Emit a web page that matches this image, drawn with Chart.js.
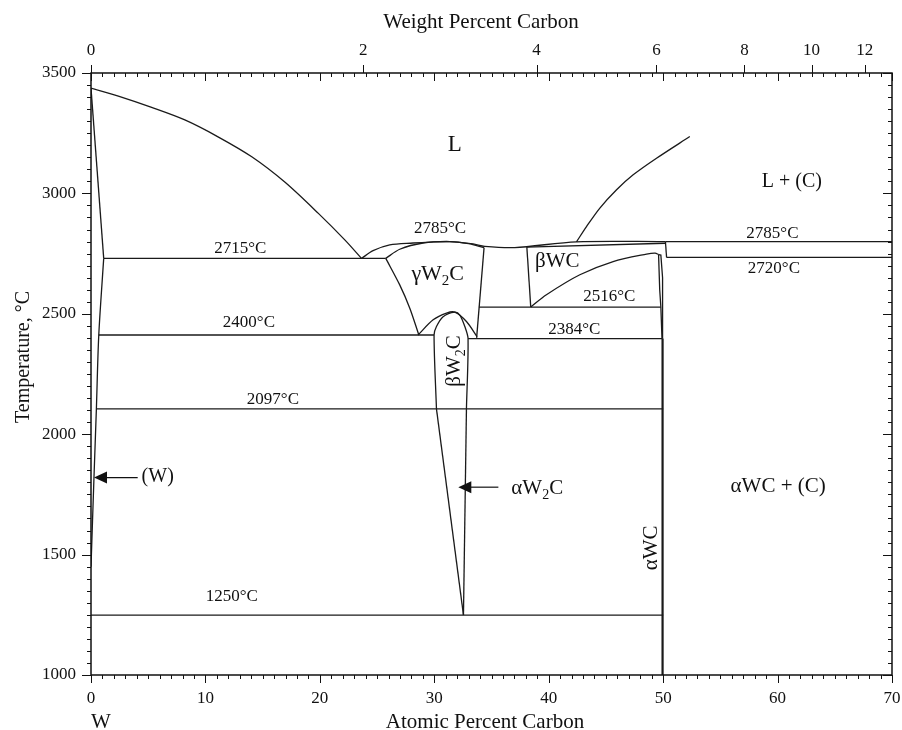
<!DOCTYPE html>
<html><head><meta charset="utf-8">
<script src="https://cdn.jsdelivr.net/npm/chart.js@4.4.1/dist/chart.umd.min.js"></script>
<style>html,body{margin:0;padding:0;background:#fff;}#wrap{width:902px;height:730px;position:relative;}</style>
</head><body><div id="wrap"><canvas id="c"></canvas></div>
<script>
const FONT = '"Liberation Serif","Times New Roman",Times,serif';

// ---- axis tick values ----
const atTicks = [0, 10, 20, 30, 40, 50, 60, 70];          // atomic percent C (bottom)
const wtTicks = [0, 2, 4, 6, 8, 10, 12];                   // weight percent C (top)
const tempTicks = [1000, 1500, 2000, 2500, 3000, 3500];    // temperature, °C

// ---- phase boundaries: [atomic % C, temperature °C] ----
const liquidusW   = [[0,3437],[2.39,3404],[5.3,3357],[8.2,3305],[11.1,3235],[14.05,3152],[16.96,3046],[19.87,2917],[22.2,2806],[23.64,2730]];
const solidusW    = [[0,3437],[1.11,2730]];
const solvusW     = [[1.11,2730],[0.68,2412],[0.47,2105],[0.26,1820],[0,1450]];
const eutectic2715 = [[1.11,2730],[25.76,2730]];
const eutectoid2400 = [[0.68,2412],[29.98,2412]];
const eutectoid2097 = [[0.47,2105],[50,2105]];
const eutectoid1250 = [[0,1249],[50,1249]];
const liquidusMid = [[23.64,2730],[24.65,2762],[26.11,2786],[28.15,2794],[29.6,2798],[31.35,2800],[33.39,2790],[34.41,2780],[37.03,2775],[42.43,2799],[50.2,2800]];
const solidusGamma = [[25.76,2730],[26.98,2768],[29.02,2794],[31.35,2800],[33.0,2791],[34.35,2775]];
const gammaLeft   = [[25.76,2730],[26.98,2620],[27.86,2523],[28.65,2412]];
const gammaRight  = [[34.35,2775],[33.7,2400]];
const gammaBetaDome = [[28.58,2412],[29.9,2475],[31.07,2503],[31.79,2507],[32.81,2468],[33.74,2405]];
const betaW2C     = [[30.19,2105],[29.98,2412],[30.19,2447],[30.77,2488],[31.79,2507],[32.23,2495],[32.67,2447],[32.95,2397],[32.81,2105]];
const alphaW2CLeft  = [[30.19,2105],[32.55,1249]];
const alphaW2CRight = [[32.81,2105],[32.55,1249]];
const eutectoid2384 = [[32.95,2397],[49.95,2397]];
const line2516    = [[33.9,2528],[49.8,2528]];
const betaWCLeft  = [[38.09,2777],[38.43,2528]];
const betaWCRight = [[38.43,2528],[39.8,2579],[42.72,2662],[45.63,2717],[48.55,2748],[49.3,2752],[49.6,2746]];
const solidusBetaWC = [[38.06,2777],[50.2,2793]];
const peritectic  = [[50.2,2800],[50.3,2734]];
const line2785    = [[50.2,2800],[70,2800]];
const line2720    = [[50.3,2734],[70,2734]];
const alphaWCLeft  = [[49.6,2746],[49.7,2600],[49.8,2528],[49.9,2397]];
const alphaWCRight = [[49.6,2746],[49.8,2744],[49.95,2650],[49.95,2397]];
const alphaWCBase  = [[49.95,2397],[49.95,1000]];
const liquidusC   = [[42.43,2799],[43.3,2862],[44.47,2939],[45.93,3015],[47.38,3077],[49.42,3146],[52.33,3236]];

const curves = {liquidusW, solidusW, solvusW, eutectic2715, eutectoid2400, eutectoid2097, eutectoid1250,
  liquidusMid, solidusGamma, gammaLeft, gammaRight, gammaBetaDome, betaW2C, alphaW2CLeft, alphaW2CRight,
  eutectoid2384, line2516, betaWCLeft, betaWCRight, solidusBetaWC, peritectic, line2785, line2720,
  alphaWCLeft, alphaWCRight, alphaWCBase, liquidusC};
const smooth = new Set(['liquidusW','liquidusMid','solidusGamma','gammaLeft','gammaBetaDome','betaW2C','betaWCRight','liquidusC','solvusW']);

// ---- text annotations: [parts, at%, T, size, rotation] ----
const regionLabels = [
  [[['L']], 31.8, 3202, 23, 0],
  [[['L + (C)']], 61.25, 3048, 20, 0],
  [[['γW'],['2','sub'],['C']], 30.3, 2664, 22, 0],
  [[['βWC']], 40.75, 2718, 21, 0],
  [[['βW'],['2','sub'],['C']], 31.75, 2304, 21, -90],
  [[['αW'],['2','sub'],['C']], 39.0, 1773, 21, 0],
  [[['(W)']], 5.83, 1823, 20, 0],
  [[['αWC']], 49.0, 1528, 21, -90],
  [[['αWC + (C)']], 60.05, 1781, 21, 0]
];
const tempLabels = [
  ['2785°C', 30.5, 2855], ['2715°C', 13.04, 2770], ['2785°C', 59.55, 2832], ['2720°C', 59.68, 2687],
  ['2516°C', 45.3, 2570], ['2400°C', 13.8, 2462], ['2384°C', 42.24, 2434], ['2097°C', 15.9, 2142],
  ['1250°C', 12.3, 1324]
];
const arrows = [[4.08, 0.26, 1820], [35.6, 32.1, 1780]]; // [tail at%, tip at%, T]

const M_C = 12.011, M_W = 183.84;
const wtToAt = w => { const c = w / M_C, t = (100 - w) / M_W; return 100 * c / (c + t); };

const datasets = Object.entries(curves).map(([k, pts]) => ({
  label: k, data: pts.map(p => ({x: p[0], y: p[1]})), showLine: true, fill: false,
  borderColor: '#1a1a1a', borderWidth: k === 'alphaWCBase' ? 2.2 : 1.3,
  pointRadius: 0, tension: smooth.has(k) ? 0.3 : 0
}));

function drawRich(ctx, parts, x, y, size, rot) {
  const fN = size + 'px ' + FONT, fS = Math.round(size * 0.68) + 'px ' + FONT;
  let w = 0;
  const ws = parts.map(p => { ctx.font = p[1] === 'sub' ? fS : fN; const m = ctx.measureText(p[0]).width; w += m; return m; });
  ctx.save();
  ctx.translate(x, y);
  ctx.rotate(rot * Math.PI / 180);
  ctx.textBaseline = 'middle'; ctx.textAlign = 'left'; ctx.fillStyle = '#111';
  let cx = -w / 2;
  parts.forEach((p, i) => {
    ctx.font = p[1] === 'sub' ? fS : fN;
    ctx.fillText(p[0], cx, p[1] === 'sub' ? size * 0.32 : 0);
    cx += ws[i];
  });
  ctx.restore();
}

const decor = {
  id: 'decor',
  beforeDraw(chart) {
    const ctx = chart.ctx; ctx.save(); ctx.fillStyle = '#fff'; ctx.fillRect(0, 0, chart.width, chart.height); ctx.restore();
  },
  afterDraw(chart) {
    const ctx = chart.ctx, a = chart.chartArea, sx = chart.scales.x, sy = chart.scales.y;
    ctx.save();
    ctx.strokeStyle = '#111'; ctx.lineWidth = 1.5;
    ctx.strokeRect(a.left, a.top, a.right - a.left, a.bottom - a.top);
    ctx.lineWidth = 1; ctx.beginPath();
    for (let v = 0; v <= 70; v++) {
      const x = Math.round(sx.getPixelForValue(v)) + 0.5, L = v % 10 === 0 ? 8 : 4;
      ctx.moveTo(x, a.bottom); ctx.lineTo(x, a.bottom + L);
      ctx.moveTo(x, a.top); ctx.lineTo(x, a.top + L);
    }
    wtTicks.forEach(w => { const x = Math.round(sx.getPixelForValue(wtToAt(w))) + 0.5; ctx.moveTo(x, a.top); ctx.lineTo(x, a.top - 8); });
    for (let t = 1000; t <= 3500; t += 50) {
      const y = Math.round(sy.getPixelForValue(t)) + 0.5, L = t % 500 === 0 ? 9 : 4;
      ctx.moveTo(a.left, y); ctx.lineTo(a.left - L, y);
      ctx.moveTo(a.right, y); ctx.lineTo(a.right - L, y);
    }
    ctx.stroke();
    ctx.strokeStyle = '#111'; ctx.fillStyle = '#111'; ctx.lineWidth = 1.2;
    arrows.forEach(([t0, t1, T]) => {
      const x0 = sx.getPixelForValue(t0), x1 = sx.getPixelForValue(t1), y = sy.getPixelForValue(T);
      ctx.beginPath(); ctx.moveTo(x0, y); ctx.lineTo(x1 + 10, y); ctx.stroke();
      ctx.beginPath(); ctx.moveTo(x1, y); ctx.lineTo(x1 + 13, y - 6); ctx.lineTo(x1 + 13, y + 6); ctx.closePath(); ctx.fill();
    });
    regionLabels.forEach(([parts, at, T, size, rot]) => drawRich(ctx, parts, sx.getPixelForValue(at), sy.getPixelForValue(T), size, rot));
    tempLabels.forEach(([s, at, T]) => drawRich(ctx, [[s]], sx.getPixelForValue(at), sy.getPixelForValue(T), 17, 0));
    ctx.fillStyle = '#111'; ctx.textAlign = 'center'; ctx.textBaseline = 'alphabetic';
    ctx.font = '21px ' + FONT;
    ctx.fillText('Weight Percent Carbon', 481, 28);
    ctx.fillText('Atomic Percent Carbon', 485, 728);
    ctx.textAlign = 'left';
    ctx.fillText('W', 91, 728);
    ctx.font = '20px ' + FONT;
    ctx.save(); ctx.translate(29, 357); ctx.rotate(-Math.PI / 2); ctx.textAlign = 'center';
    ctx.fillText('Temperature, °C', 0, 0); ctx.restore();
    ctx.restore();
  }
};

const tickFont = {family: FONT, size: 17};
const fitX = h => s => { s.height = h; s.paddingLeft = 0; s.paddingRight = 10; };
new Chart(document.getElementById('c'), {
  type: 'scatter',
  data: {datasets},
  options: {
    responsive: true, maintainAspectRatio: false, animation: false,
    layout: {padding: 0},
    plugins: {legend: {display: false}, tooltip: {enabled: false}},
    scales: {
      x: {type: 'linear', position: 'bottom', min: 0, max: 70,
        afterBuildTicks: s => { s.ticks = atTicks.map(v => ({value: v})); },
        afterFit: fitX(55),
        grid: {display: false, drawTicks: false}, border: {display: false},
        ticks: {font: tickFont, color: '#111', padding: 13, maxRotation: 0, autoSkip: false,
          callback: v => String(v)}},
      x2: {type: 'linear', position: 'top', min: 0, max: 70,
        afterBuildTicks: s => { s.ticks = wtTicks.map(w => ({value: wtToAt(w)})); },
        afterFit: fitX(73),
        grid: {display: false, drawTicks: false}, border: {display: false},
        ticks: {font: tickFont, color: '#111', padding: 12, maxRotation: 0, autoSkip: false,
          callback: (v, i) => String(wtTicks[i])}},
      y: {type: 'linear', position: 'left', min: 1000, max: 3500,
        afterBuildTicks: s => { s.ticks = tempTicks.map(v => ({value: v})); },
        afterFit: s => { s.width = 91; s.paddingTop = 0; s.paddingBottom = 0; },
        grid: {display: false, drawTicks: false}, border: {display: false},
        ticks: {font: tickFont, color: '#111', padding: 15, autoSkip: false,
          callback: v => String(v)}}
    }
  },
  plugins: [decor]
});
</script></body></html>
